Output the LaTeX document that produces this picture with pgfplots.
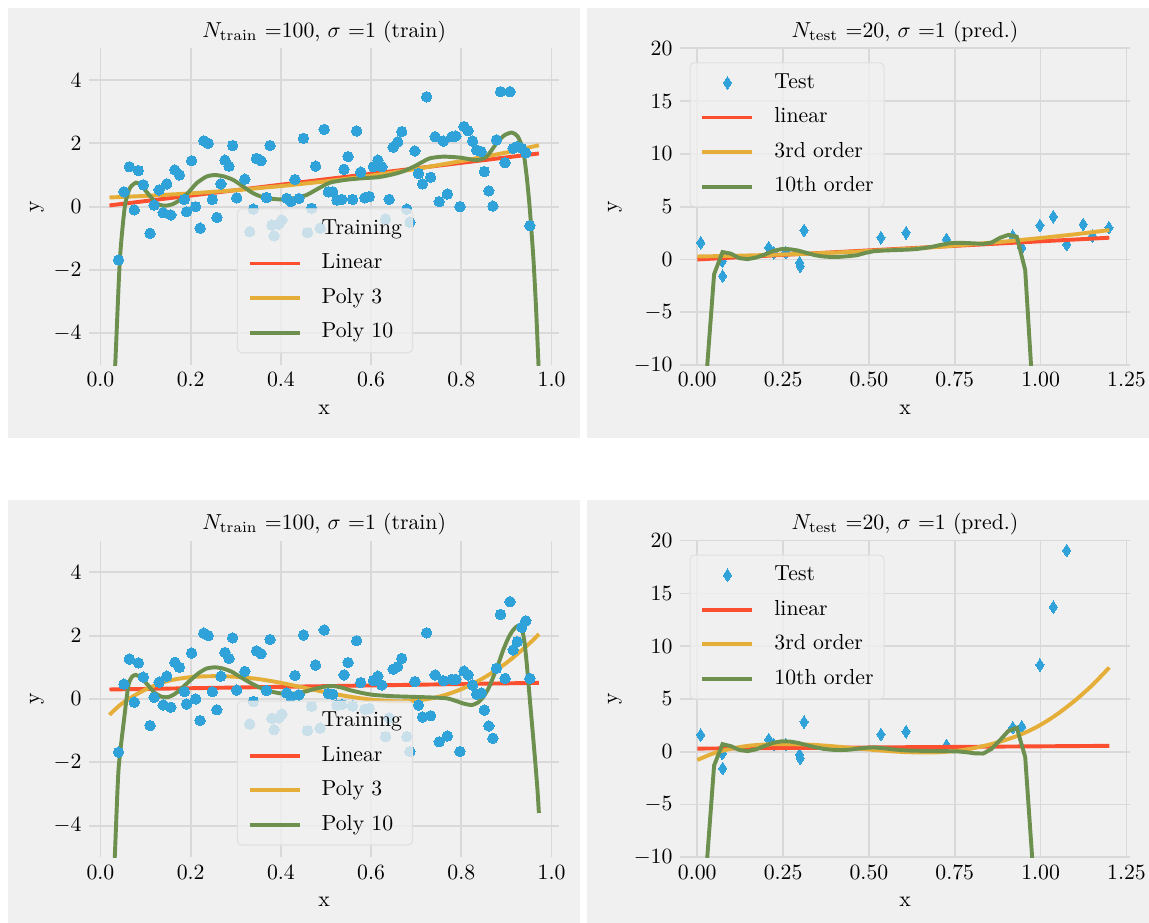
\documentclass[border=0pt]{standalone}
\usepackage{pgfplots}
\usepackage{pgfplotstable}
\pgfplotsset{compat=1.18}
\definecolor{bgc}{HTML}{F0F0F0}
\definecolor{gridc}{HTML}{D9D9D9}
\definecolor{legedge}{HTML}{E0E0E0}
\definecolor{cblue}{HTML}{30A2DA}
\definecolor{cred}{HTML}{FC4F30}
\definecolor{cyel}{HTML}{E5AE38}
\definecolor{cgreen}{HTML}{6D904F}

% training data: x, y (top fit), y (bottom fit)
\pgfplotstableread{
x y1 y2
0.040 -1.68 -1.68
0.052 0.47 0.47
0.064 1.26 1.26
0.075 -0.10 -0.10
0.084 1.14 1.14
0.095 0.69 0.69
0.110 -0.84 -0.84
0.119 0.05 0.05
0.130 0.53 0.53
0.139 -0.19 -0.19
0.147 0.72 0.72
0.156 -0.26 -0.26
0.165 1.16 1.16
0.175 1.00 1.00
0.186 0.23 0.23
0.191 -0.16 -0.16
0.202 1.45 1.45
0.211 0.00 0.00
0.221 -0.68 -0.68
0.229 2.08 2.08
0.239 2.00 2.00
0.248 0.23 0.23
0.258 -0.34 -0.34
0.267 0.72 0.72
0.276 1.47 1.47
0.285 1.28 1.28
0.293 1.93 1.93
0.302 0.28 0.28
0.320 0.87 0.87
0.331 -0.79 -0.79
0.339 -0.08 -0.08
0.346 1.52 1.52
0.356 1.45 1.43
0.368 0.29 0.27
0.376 1.93 1.88
0.380 -0.58 -0.61
0.385 -0.92 -0.97
0.395 -0.55 -0.60
0.402 -0.42 -0.48
0.413 0.26 0.19
0.422 0.16 0.07
0.431 0.86 0.74
0.440 0.26 0.13
0.450 2.16 2.02
0.459 -0.82 -1.00
0.468 -0.05 -0.23
0.477 1.28 1.07
0.487 -0.68 -0.92
0.496 2.44 2.18
0.505 0.47 0.17
0.515 0.47 0.15
0.524 0.21 -0.19
0.535 0.23 -0.18
0.540 1.18 0.76
0.549 1.58 1.15
0.559 0.23 -0.22
0.568 2.39 1.84
0.577 1.09 0.52
0.586 0.28 -0.33
0.596 0.32 -0.30
0.605 1.26 0.58
0.615 1.47 0.72
0.624 1.26 0.44
0.632 -0.39 -1.19
0.640 0.23 -0.60
0.649 1.88 0.94
0.659 2.05 1.02
0.668 2.37 1.28
0.679 -0.08 -1.19
0.686 -0.49 -1.66
0.697 1.76 0.55
0.705 1.05 -0.19
0.714 0.72 -0.57
0.723 3.47 2.09
0.732 0.93 -0.53
0.742 2.21 0.76
0.751 0.16 -1.35
0.760 2.07 0.58
0.769 0.40 -1.17
0.779 2.21 0.62
0.788 2.23 0.62
0.797 0.00 -1.66
0.806 2.53 0.88
0.815 2.40 0.76
0.825 2.07 0.44
0.834 1.79 0.15
0.844 1.74 0.19
0.851 1.11 -0.35
0.861 0.50 -0.85
0.870 0.02 -1.24
0.878 2.11 0.97
0.887 3.63 2.67
0.897 1.39 0.65
0.908 3.63 3.07
0.915 1.84 1.55
0.924 1.90 1.81
0.934 1.84 2.26
0.943 1.70 2.47
0.952 -0.60 0.65
}\traindata

% test data: x, y (top), y (bottom)
\pgfplotstableread{
x y1 y2
0.010 1.58 1.59
0.073 -0.16 -0.16
0.074 -1.58 -1.58
0.208 1.12 1.16
0.223 0.63 0.68
0.258 0.66 0.70
0.298 -0.30 -0.28
0.300 -0.64 -0.62
0.311 2.76 2.83
0.535 2.06 1.65
0.608 2.53 1.90
0.726 1.90 0.60
0.919 2.22 2.28
0.945 1.11 2.37
0.998 3.23 8.23
1.037 4.05 13.70
1.076 1.42 19.06
1.124 3.32 33.0
1.151 2.22 42.0
1.199 3.01 63.0
}\testdata

\pgfplotsset{
  panel/.style={
    scale only axis, height=145.68pt,
    axis line style={draw=none}, major tick length=0pt,
    tick style={draw=none},
    grid=major, major grid style={draw=gridc, line width=0.8pt},
    title style={at={(axis description cs:0.5,1.035)}, anchor=base, inner sep=0pt, yshift=-6pt},
    xlabel style={at={(axis description cs:0.5,-0.155)}, anchor=base, inner sep=0pt},
    xlabel={x}, ylabel={y},
    legend cell align=left,
    legend image code/.code={\draw[##1] (0pt,0pt) -- (23pt,0pt);},
    legend style={anchor=north west, fill=bgc, fill opacity=0.8, draw opacity=1, text opacity=1,
      draw=legedge, line width=0.5pt, rounded corners=2pt, inner xsep=4.8pt, inner ysep=4.8pt,
      row sep=7pt,
      nodes={inner sep=0pt, text height=6.9pt, text depth=2pt},
      /tikz/every odd column/.append style={column sep=9.2pt}},
    every axis plot/.append style={line width=1.8pt},
  },
  trainpanel/.style={panel, width=216.2pt,
    xmin=-0.025, xmax=1.017, ymin=-5, ymax=5,
    xtick={0,0.2,0.4,0.6,0.8,1.0}, ytick={-4,-2,0,2,4},
    xticklabel style={/pgf/number format/.cd, fixed, fixed zerofill, precision=1},
    ylabel style={at={(axis description cs:-0.111,0.5)}, anchor=center, inner sep=0pt},
    title={$N_{\mathrm{train}}$ =100, $\sigma$ =1 (train)},
    legend style={at={(axis description cs:0.314,0.495)}},
  },
  testpanel/.style={panel, width=206.9pt,
    xmin=-0.05, xmax=1.26, ymin=-10, ymax=20,
    xtick={0,0.25,0.5,0.75,1.0,1.25}, ytick={-10,-5,0,5,10,15,20},
    xticklabel style={/pgf/number format/.cd, fixed, fixed zerofill, precision=2},
    ylabel style={at={(axis description cs:-0.145,0.5)}, anchor=center, inner sep=0pt},
    title={$N_{\mathrm{test}}$ =20, $\sigma$ =1 (pred.)},
    legend style={at={(axis description cs:0.021,0.956)}},
    clip marker paths=true,
  },
  trainmarks/.style={only marks, mark=*, mark size=2.4pt, color=cblue,
    mark options={draw=cblue, fill=cblue, line width=0pt},
    legend image code/.code={\path[draw=none, fill=none] (0pt,0pt) -- (23pt,0pt);}},
  testmarks/.style={only marks, mark=diamond*, mark size=2.9pt, color=cblue,
    mark options={draw=cblue, fill=cblue, line width=0pt, xscale=0.87, fill opacity=1},
    legend image code/.code={\draw[mark repeat=2,mark phase=2,##1] plot coordinates {(0pt,0pt) (11.5pt,0pt) (23pt,0pt)};}},
}

\begin{document}
\begin{tikzpicture}
\useasboundingbox (0pt,0pt) rectangle (528.54pt,424.58pt);
\fill[bgc] (3.68pt,223.1pt) rectangle (266.8pt,420.9pt);
\fill[bgc] (270.0pt,223.1pt) rectangle (528.54pt,420.9pt);
\fill[bgc] (3.68pt,0pt) rectangle (266.8pt,194.58pt);
\fill[bgc] (270.0pt,0pt) rectangle (528.54pt,194.58pt);

% ---------------- top left
\begin{axis}[trainpanel, at={(41.03pt,256.66pt)}, anchor=south west]
\addplot[trainmarks] table[x=x, y=y1] {\traindata};
\addlegendentry{Training}
\addplot[cred] coordinates {(0.02,0.04) (0.972,1.68)};
\addlegendentry{Linear}
\addplot[cyel] coordinates {(0.02,0.29) (0.1,0.34) (0.2,0.42) (0.3,0.52) (0.4,0.65) (0.5,0.80) (0.6,0.98) (0.7,1.19) (0.8,1.44) (0.9,1.71) (0.972,1.94)};
\addlegendentry{Poly 3}
\addplot[cgreen, smooth, tension=0.4] coordinates {
(0.027,-6.5) (0.033,-4.9) (0.043,-1.68) (0.054,0.0) (0.065,0.58) (0.079,0.76) (0.090,0.68)
(0.102,0.47) (0.125,0.10) (0.143,0.03) (0.160,0.08) (0.176,0.21) (0.195,0.45) (0.213,0.74)
(0.235,0.95) (0.254,1.0) (0.275,0.95) (0.295,0.84) (0.315,0.65) (0.339,0.42) (0.365,0.28)
(0.398,0.23) (0.430,0.27) (0.457,0.37) (0.480,0.55) (0.509,0.76) (0.545,0.85) (0.583,0.90)
(0.615,0.93) (0.642,1.00) (0.668,1.10) (0.694,1.26) (0.712,1.40) (0.731,1.53) (0.760,1.58)
(0.797,1.55) (0.834,1.47) (0.856,1.58) (0.878,2.00) (0.895,2.25) (0.912,2.34) (0.925,2.22)
(0.937,1.79) (0.945,0.95) (0.952,-0.10) (0.960,-1.68) (0.966,-3.3) (0.972,-5.3)};
\addlegendentry{Poly 10}
\end{axis}

% ---------------- top right
\begin{axis}[testpanel, at={(312.85pt,256.66pt)}, anchor=south west]
\addplot[testmarks] table[x=x, y=y1] {\testdata};
\addlegendentry{Test}
\addplot[cred] coordinates {(0,0.0) (1.2,2.06)};
\addlegendentry{linear}
\addplot[cyel] coordinates {(0,0.28) (0.1,0.34) (0.2,0.42) (0.3,0.52) (0.4,0.65) (0.5,0.80) (0.6,0.98) (0.7,1.19) (0.8,1.44) (0.9,1.71) (1.0,2.03) (1.1,2.38) (1.2,2.78)};
\addlegendentry{3rd order}
\addplot[cgreen] coordinates {
(0,-60) (0.0245,-12) (0.049,-1.4) (0.0735,0.70) (0.098,0.55) (0.1224,0.12) (0.1469,0.03)
(0.1714,0.18) (0.1959,0.46) (0.2204,0.80) (0.2449,0.98) (0.2694,0.97) (0.2939,0.84)
(0.3184,0.62) (0.3429,0.40) (0.3673,0.28) (0.3918,0.23) (0.4163,0.25) (0.4408,0.31)
(0.4653,0.40) (0.4898,0.62) (0.5143,0.78) (0.5388,0.84) (0.5633,0.87) (0.5878,0.90)
(0.6122,0.93) (0.6367,0.98) (0.6612,1.08) (0.6857,1.21) (0.7102,1.39) (0.7347,1.53)
(0.7592,1.58) (0.7837,1.56) (0.8082,1.52) (0.8327,1.47) (0.8571,1.60) (0.8816,2.05)
(0.9061,2.33) (0.9306,2.15) (0.9551,-1.0) (0.9796,-14)};
\addlegendentry{10th order}
\end{axis}

% ---------------- bottom left
\begin{axis}[trainpanel, at={(41.03pt,30.20pt)}, anchor=south west]
\addplot[trainmarks] table[x=x, y=y2] {\traindata};
\addlegendentry{Training}
\addplot[cred] coordinates {(0.02,0.30) (0.972,0.51)};
\addlegendentry{Linear}
\addplot[cyel, smooth] coordinates {(0.02,-0.50) (0.05,-0.12) (0.1,0.30) (0.15,0.57) (0.2,0.69) (0.25,0.72) (0.3,0.70) (0.35,0.63) (0.4,0.51) (0.45,0.36) (0.5,0.21) (0.55,0.08) (0.6,-0.02) (0.65,-0.07) (0.7,-0.05) (0.75,0.07) (0.8,0.31) (0.85,0.67) (0.9,1.14) (0.95,1.74) (0.972,2.05)};
\addlegendentry{Poly 3}
\addplot[cgreen, smooth, tension=0.4] coordinates {
(0.028,-6) (0.032,-4.9) (0.040,-2.24) (0.053,-0.56) (0.062,0.44) (0.070,0.70) (0.078,0.76)
(0.090,0.68) (0.102,0.49) (0.120,0.20) (0.136,0.07) (0.150,0.06) (0.165,0.16) (0.180,0.34)
(0.200,0.60) (0.217,0.81) (0.235,0.96) (0.254,1.0) (0.272,0.96) (0.291,0.86) (0.312,0.68)
(0.335,0.49) (0.358,0.33) (0.380,0.23) (0.398,0.18) (0.416,0.16) (0.435,0.18) (0.453,0.23)
(0.475,0.32) (0.498,0.39) (0.515,0.41) (0.535,0.36) (0.553,0.28) (0.580,0.19) (0.605,0.13)
(0.645,0.09) (0.686,0.07) (0.731,0.05) (0.768,0.02) (0.790,-0.07) (0.804,-0.14) (0.823,-0.19)
(0.838,-0.10) (0.849,0.07) (0.860,0.33) (0.871,0.70) (0.882,1.10) (0.893,1.55) (0.905,1.95)
(0.915,2.18) (0.923,2.29) (0.929,2.31) (0.935,2.18) (0.940,1.80) (0.945,1.13) (0.952,-0.03)
(0.958,-1.0) (0.964,-2.0) (0.969,-2.9) (0.972,-3.6)};
\addlegendentry{Poly 10}
\end{axis}

% ---------------- bottom right
\begin{axis}[testpanel, at={(312.85pt,30.20pt)}, anchor=south west]
\addplot[testmarks] table[x=x, y=y2] {\testdata};
\addlegendentry{Test}
\addplot[cred] coordinates {(0,0.30) (1.2,0.56)};
\addlegendentry{linear}
\addplot[cyel, smooth] coordinates {(0,-0.78) (0.05,-0.12) (0.1,0.30) (0.15,0.57) (0.2,0.69) (0.25,0.72) (0.3,0.70) (0.35,0.63) (0.4,0.51) (0.45,0.36) (0.5,0.21) (0.55,0.08) (0.6,-0.02) (0.65,-0.07) (0.7,-0.05) (0.75,0.07) (0.8,0.31) (0.85,0.67) (0.9,1.14) (0.95,1.74) (1.0,2.55) (1.05,3.6) (1.1,4.85) (1.15,6.3) (1.2,7.98)};
\addlegendentry{3rd order}
\addplot[cgreen] coordinates {
(0,-60) (0.0245,-12) (0.049,-1.3) (0.0735,0.72) (0.098,0.53) (0.1224,0.17) (0.1469,0.06)
(0.1714,0.23) (0.1959,0.55) (0.2204,0.84) (0.2449,0.99) (0.2694,0.97) (0.2939,0.84)
(0.3184,0.63) (0.3429,0.43) (0.3673,0.28) (0.3918,0.19) (0.4163,0.16) (0.4408,0.19)
(0.4653,0.28) (0.4898,0.37) (0.5143,0.41) (0.5388,0.35) (0.5633,0.25) (0.5878,0.17)
(0.6122,0.12) (0.6367,0.10) (0.6612,0.08) (0.6857,0.07) (0.7102,0.06) (0.7347,0.05)
(0.7592,0.03) (0.7837,-0.04) (0.8082,-0.15) (0.8327,-0.17) (0.8571,0.27) (0.8816,1.10)
(0.9061,1.97) (0.9306,2.27) (0.9551,-0.5) (0.9796,-12)};
\addlegendentry{10th order}
\end{axis}
\end{tikzpicture}
\end{document}
